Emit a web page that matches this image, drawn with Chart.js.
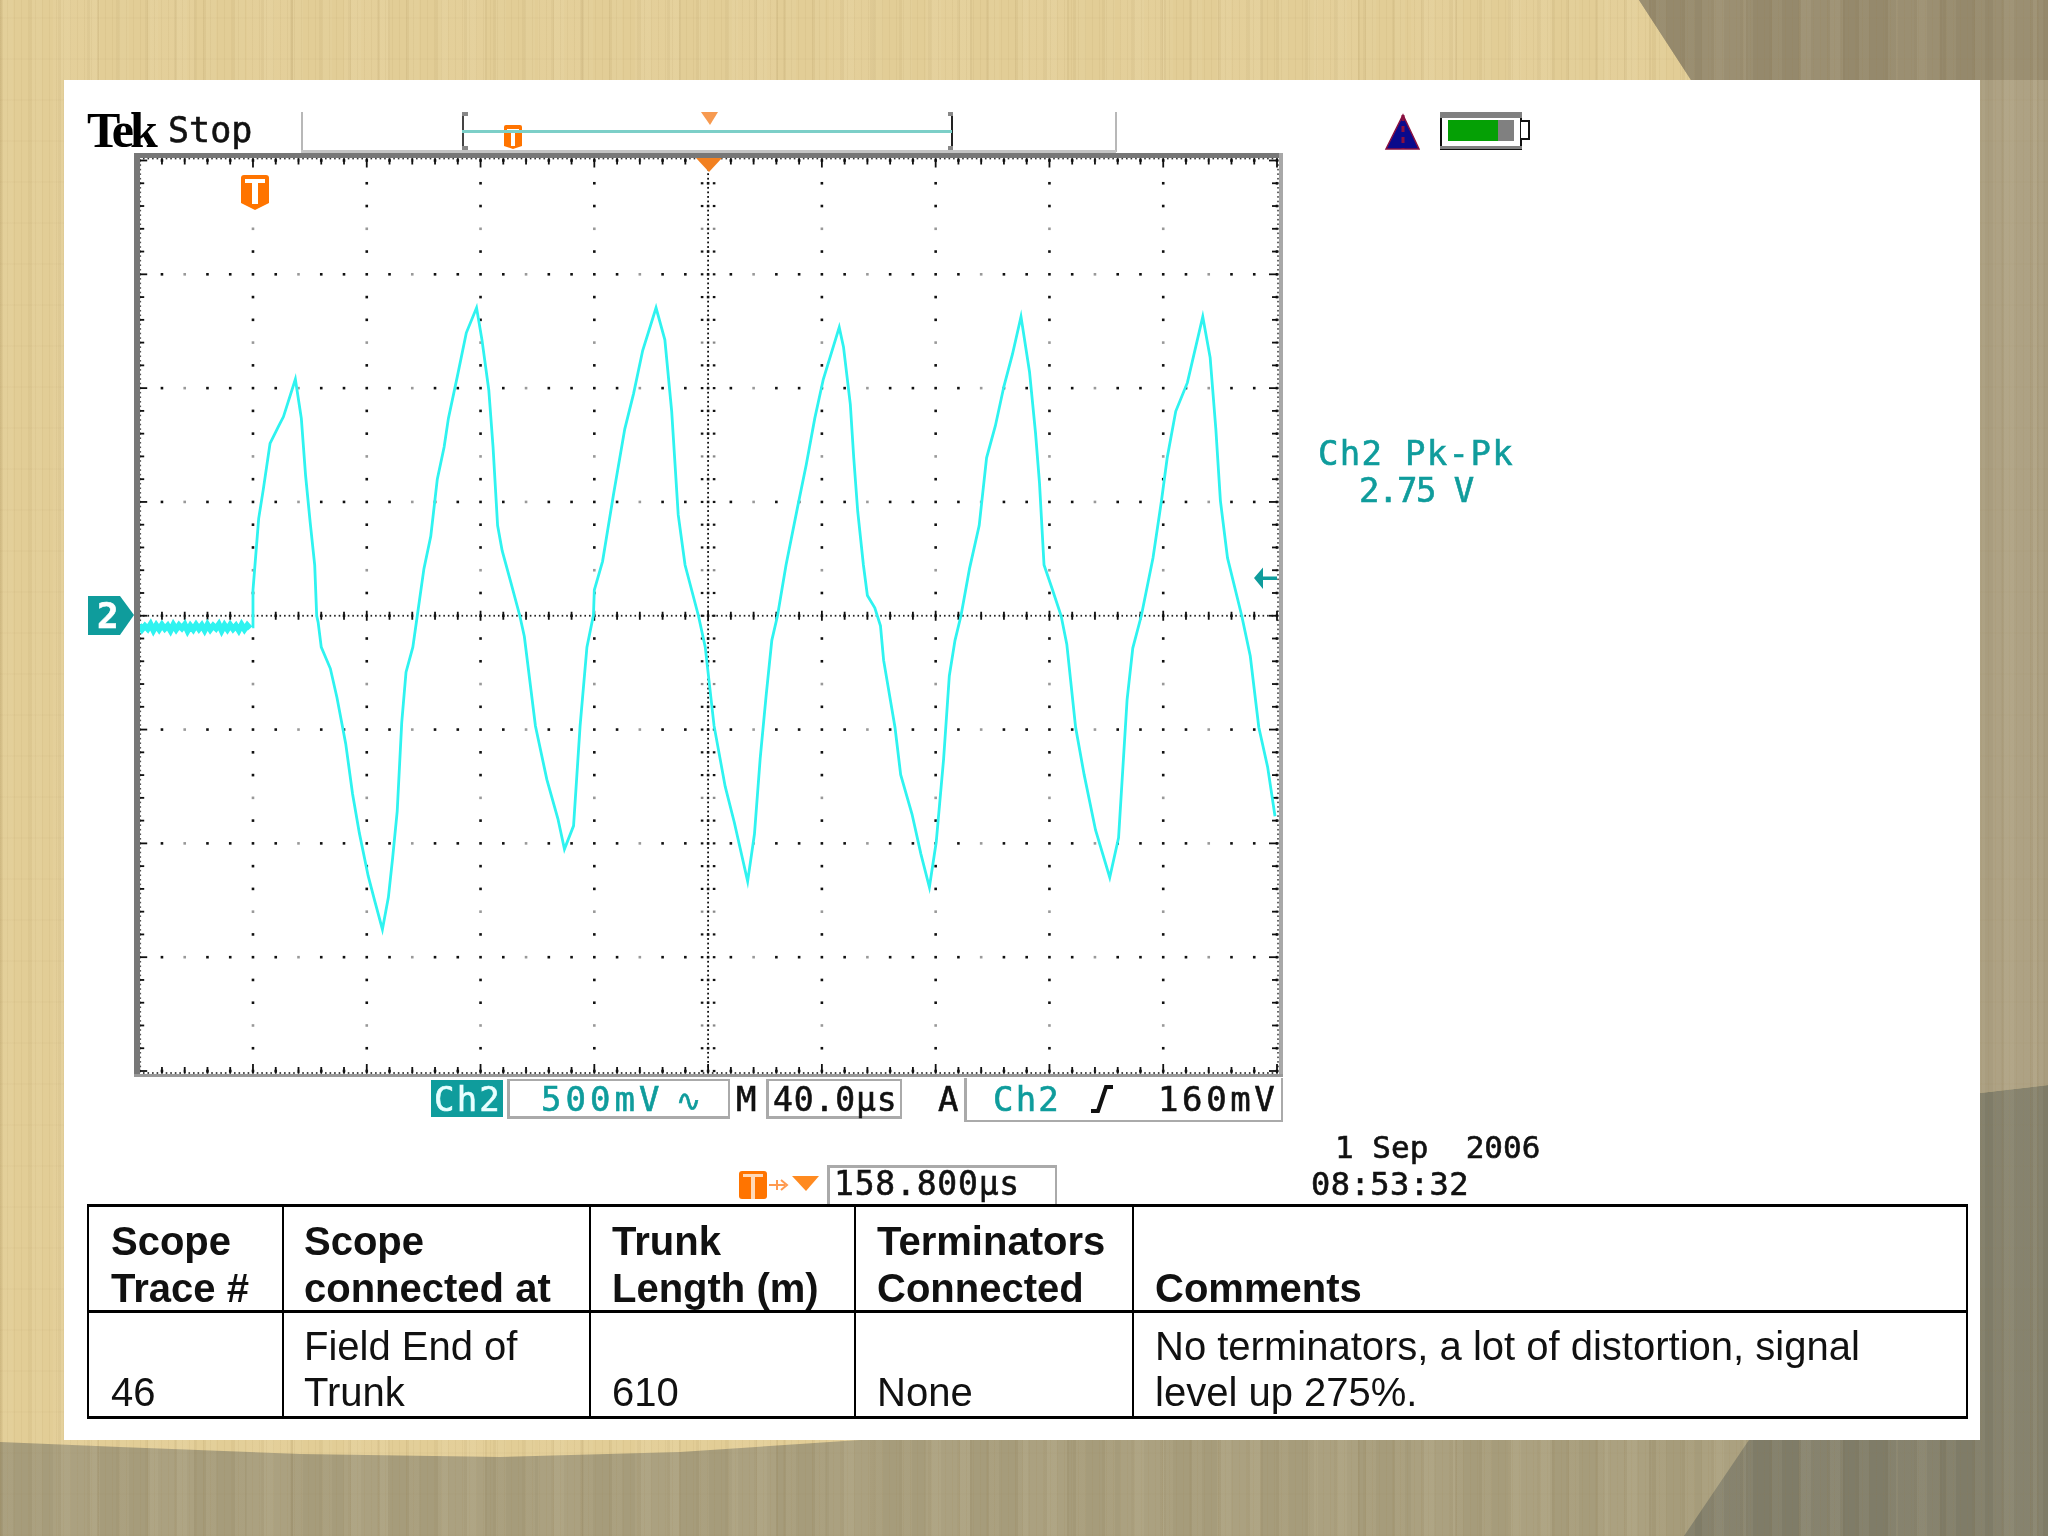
<!DOCTYPE html>
<html>
<head>
<meta charset="utf-8">
<title>Scope trace 46</title>
<script src="https://cdn.jsdelivr.net/npm/chart.js@4"></script>
<style>
html, body { margin: 0; padding: 0; }
body { width: 2048px; height: 1536px; overflow: hidden; position: relative; background: #e2cd96; }
.layer { position: absolute; left: 0; top: 0; width: 2048px; height: 1536px; }
.wood { background-image:
    repeating-linear-gradient(90deg, rgba(150,120,60,.07) 0 1px, rgba(255,255,255,0) 1px 7px),
    repeating-linear-gradient(90deg, rgba(130,105,55,.06) 0 3px, rgba(255,245,215,.05) 3px 13px, rgba(255,255,255,0) 13px 29px),
    repeating-linear-gradient(90deg, rgba(120,95,50,.07) 0 2px, rgba(255,255,255,0) 2px 53px, rgba(255,240,210,.06) 53px 97px),
    repeating-linear-gradient(0deg, rgba(140,110,60,.03) 0 2px, rgba(255,255,255,0) 2px 41px); }
#top-right { background-color: #a99d7f; clip-path: polygon(1639px 0, 2048px 0, 2048px 1085px, 1980px 1093px, 1980px 80px, 1691px 80px); }
#top-band { background-color: #95896c; clip-path: polygon(1639px 0, 2048px 0, 2048px 80px, 1691px 80px); }
#bottom { background-color: #a69c7b; clip-path: polygon(0 1442px, 120px 1447px, 300px 1454px, 500px 1457px, 680px 1452px, 860px 1440px, 2048px 1440px, 2048px 1536px, 0 1536px); }
#bottom-dark { background-color: #7f7c68; clip-path: polygon(1749px 1440px, 1980px 1440px, 1980px 1093px, 2048px 1085px, 2048px 1536px, 1684px 1536px); }
#panel { position: absolute; left: 64px; top: 80px; width: 1916px; height: 1360px; background: #fff; }
#chart { position: absolute; left: 0; top: 0; }
.t { position: absolute; line-height: 0; white-space: pre; }
.r { position: absolute; }
</style>
</head>
<body>
<div class="layer wood" id="wood"></div>
<div class="layer wood" id="top-right"></div>
<div class="layer wood" id="top-band"></div>
<div class="layer wood" id="bottom"></div>
<div class="layer wood" id="bottom-dark"></div>
<div id="panel"></div>
<canvas id="chart" width="2048" height="1536"></canvas>
<svg class="layer" viewBox="0 0 2048 1536" xmlns="http://www.w3.org/2000/svg">
  <!-- trigger position markers -->
  <path d="M241 178 q0 -3 3 -3 h22 q3 0 3 3 v25 l-14 7 l-14 -7 z" fill="#ff7400"/>
  <path d="M245 179 h20 v4 h-7 v21 h-6 v-21 h-7 z" fill="#fff"/>
  <path d="M504 127 q0 -2 2 -2 h14 q2 0 2 2 v19 l-9 3 l-9 -3 z" fill="#ff7400"/>
  <path d="M507 129 h12 v3 h-4 v14 h-4 v-14 h-4 z" fill="#fff"/>
  <path d="M739 1174 q0 -3 3 -3 h22 q3 0 3 3 v22 q0 3 -3 3 h-22 q-3 0 -3 -3 z" fill="#ff7400"/>
  <path d="M743 1174 h20 v3 h-8 v22 h-4 v-22 h-8 z" fill="#ffd9b8"/>
  <path d="M769 1185 h16 M781 1180 l6 5 l-6 5 M777 1180 v10" stroke="#ff9a50" stroke-width="2" fill="none"/>
  <path d="M792 1176 h27 l-13 15 z" fill="#ff8a20"/>
  <path d="M701 112 h17 l-8 13 z" fill="#f79a50"/>
  <path d="M696 158 h26 l-13 14 z" fill="#f28020"/>
  <!-- channel markers -->
  <path d="M88 596 h32 l14 19 l-14 20 h-32 z" fill="#0f9c9c"/>
  <path d="M1277 576.5 h-14 v-9 l-9 10.5 l9 11 v-9 h14 z" fill="#0f9c9c"/>
  <!-- warning triangle and battery -->
  <path d="M1403 115 l16 34 h-33 z" fill="#0a0a8c" stroke="#8a1040" stroke-width="1.5"/>
  <path d="M1403 115 v34" stroke="#8a1040" stroke-width="3" stroke-dasharray="6 5"/>
  <rect x="1441" y="113" width="80" height="36" fill="#fff" stroke="#111" stroke-width="2"/>
  <rect x="1440" y="112" width="82" height="6" fill="#808080"/>
  <rect x="1440" y="146" width="82" height="3" fill="#808080"/>
  <rect x="1448" y="120" width="50" height="21" fill="#05a005"/>
  <rect x="1498" y="120" width="16" height="21" fill="#808080"/>
  <path d="M1521 121 h8 v18 h-8" fill="#fff" stroke="#111" stroke-width="2"/>
  <!-- trigger slope -->
  <path d="M1091 1111 h7 l8 -24 h7" fill="none" stroke="#111" stroke-width="4"/>
</svg>
<script>
// Ch2 trace, time in microseconds and level in volts, 40 us/div and 500 mV/div
var idleTime = [0, 1, 2, 3, 4, 5, 6, 7, 8, 9, 10, 11, 12, 13, 14, 15, 16, 17, 18, 19, 20, 21, 22, 23, 24, 25, 26, 27, 28, 29, 30, 31, 32, 33, 34, 35, 36, 37, 38, 39];
var idleVolts = [-0.04, -0.06, -0.045, -0.058, -0.038, -0.064, -0.042, -0.06, -0.04, -0.057, -0.044, -0.065, -0.04, -0.06, -0.042, -0.055, -0.039, -0.066, -0.044, -0.06, -0.04, -0.058, -0.042, -0.064, -0.04, -0.06, -0.044, -0.056, -0.038, -0.065, -0.042, -0.06, -0.04, -0.058, -0.044, -0.064, -0.04, -0.06, -0.042, -0.056];
var traceTime = [39.7, 40.0, 42.0, 43.6, 46.0, 49.1, 50.7, 54.9, 57.0, 58.5, 60.1, 61.7, 62.4, 62.9, 64.0, 67.2, 69.5, 72.6, 75.0, 77.4, 80.5, 82.8, 85.5, 87.6, 89.1, 90.7, 92.3, 93.8, 96.2, 97.8,
    100.1, 102.5, 104.8, 107.2, 108.7, 111.9, 115.0, 118.6, 120.5, 122.9, 124.4, 126.0, 127.6, 130.7, 133.8, 135.4, 139.3, 143.3, 147.2, 149.5, 152.7, 155.0, 157.4, 159.7,
    160.0, 162.9, 166.8, 170.7, 173.8, 177.0, 181.7, 184.8, 187.2, 189.5, 191.9, 196.6, 199.0, 202.1, 206.0, 209.2, 213.9, 216.3, 218.3, 220.4, 222.4, 224.4,
    227.4, 231.4, 234.5, 237.5, 240.5, 246.1, 247.6, 250.0, 251.2, 252.6, 254.6, 256.0, 258.6, 260.6, 261.7, 265.7, 267.7, 271.7, 274.8, 277.8, 280.2, 282.8, 284.8, 286.8, 288.9,
    291.9, 295.3, 297.9, 301.0, 304.0, 307.0, 310.0, 313.0, 315.1, 316.5, 318.1, 321.1, 324.1, 326.1, 329.2, 332.2, 336.2, 341.2, 344.3, 347.3, 349.3, 352.3,
    356.4, 359.4, 361.4, 364.4, 368.5, 373.9, 376.5, 378.5, 380.1, 382.6, 387.6, 390.6, 393.6, 396.7, 399.3];
var traceVolts = [-0.049, 0.113, 0.427, 0.553, 0.757, 0.835, 0.874, 1.039, 0.867, 0.615, 0.411, 0.223, 0.0, -0.028, -0.138, -0.232, -0.358, -0.562, -0.782, -0.955, -1.143, -1.253, -1.378, -1.237, -1.064, -0.860, -0.468, -0.248, -0.138, 0.003,
    0.207, 0.349, 0.600, 0.741, 0.867, 1.055, 1.243, 1.353, 1.212, 0.992, 0.741, 0.396, 0.286, 0.144, 0.0, -0.091, -0.484, -0.719, -0.892, -1.025, -0.923, -0.484, -0.138, 0.003,
    0.113, 0.239, 0.537, 0.820, 0.976, 1.165, 1.353, 1.212, 0.898, 0.443, 0.223, 0.0, -0.138, -0.484, -0.750, -0.907, -1.167, -0.959, -0.629, -0.351, -0.108, 0.0,
    0.223, 0.474, 0.663, 0.867, 1.039, 1.267, 1.181, 0.929, 0.694, 0.458, 0.223, 0.089, 0.035, -0.044, -0.195, -0.490, -0.698, -0.872, -1.046, -1.193, -0.994, -0.629, -0.264, -0.108, 0.0,
    0.207, 0.396, 0.694, 0.835, 1.008, 1.149, 1.314, 1.071, 0.804, 0.584, 0.223, 0.113, 0.0, -0.125, -0.490, -0.698, -0.941, -1.150, -0.976, -0.368, -0.142, 0.0,
    0.254, 0.506, 0.694, 0.898, 1.024, 1.314, 1.134, 0.820, 0.506, 0.254, 0.0, -0.177, -0.490, -0.664, -0.881];

var tableHeads = [["Scope", "Trace #"], ["Scope", "connected at"], ["Trunk", "Length (m)"], ["Terminators", "Connected"], ["", "Comments"]];
var tableCells = [["", "46"], ["Field End of", "Trunk"], ["", "610"], ["", "None"], ["No terminators, a lot of distortion, signal", "level up 275%."]];

var TEAL = "#0f9c9c";
var MONO = "'DejaVu Sans Mono'";
var SANS = "'Liberation Sans'";

function label(text, x, base, size, color, font, extra) {
    var d = document.createElement("div");
    d.className = "t";
    d.textContent = text;
    d.style.left = x + "px";
    d.style.top = (base - 0.346 * size) + "px";
    d.style.fontSize = size + "px";
    d.style.color = color;
    d.style.fontFamily = font;
    if (font === MONO) d.style.webkitTextStroke = "0.6px " + color;
    if (extra) for (var k in extra) d.style[k] = extra[k];
    document.body.appendChild(d);
}
function rect(x, y, w, h, color) {
    var d = document.createElement("div");
    d.className = "r";
    d.style.cssText += "left:" + x + "px;top:" + y + "px;width:" + w + "px;height:" + h + "px;background:" + color;
    document.body.appendChild(d);
}

// dotted graticule, drawn from the scale ticks
var graticule = {
    id: "graticule",
    beforeDatasetsDraw: function(chart) {
        var ctx = chart.ctx, xs = chart.scales.x, ys = chart.scales.y;
        var nx = xs.ticks.length - 1, ny = ys.ticks.length - 1;
        function dot(x, y, w, h, c) {
            ctx.fillStyle = c || "#111";
            ctx.fillRect(x - w / 2, y - h / 2, w, h);
        }
        ctx.save();
        xs.ticks.forEach(function(xt, i) {
            ys.ticks.forEach(function(yt, j) {
                var fromTop = ny - j;
                var x = xs.getPixelForValue(xt.value), y = ys.getPixelForValue(yt.value);
                var onCol = i % 5 === 0, onRow = j % 5 === 0;
                if (onCol || onRow) {
                    var soft = (onCol && !onRow && fromTop % 5 === 3) || (onRow && !onCol && i % 5 === 2);
                    dot(x, y, 2.6, 2.6, soft ? "#999" : "#111");
                }
            });
        });
        // fine dots on the centre lines and the edges
        var cx = xs.getPixelForValue(200), cy = ys.getPixelForValue(0);
        var l = xs.left, r = xs.right, t = ys.top, b = ys.bottom;
        var sx = (r - l) / nx / 5, sy = (b - t) / ny / 5;
        for (var a = 0; a <= nx * 5; a++) {
            var px = l + a * sx;
            dot(px, cy, 1.6, 1.8, "#222");
            dot(px, t - 2, 1.6, 1.8, "#333");
            dot(px, b + 2, 1.6, 1.8, "#333");
        }
        for (var c = 0; c <= ny * 5; c++) {
            var py = t + c * sy;
            dot(cx, py, 1.8, 1.8, "#111");
            dot(l + 1, py, 1.8, 1.6, "#555");
            dot(r + 1, py, 1.8, 1.6, "#555");
        }
        // short ticks on the centre lines and the edges
        xs.ticks.forEach(function(xt, i) {
            var x = xs.getPixelForValue(xt.value), major = i % 5 === 0, h = major ? 9 : 6;
            dot(x, cy, 1.8, major ? 10 : 8);
            dot(x, t + h / 2 - 2, 1.8, h);
            dot(x, b - h / 2 + 2, 1.8, h);
        });
        ys.ticks.forEach(function(yt, j) {
            var y = ys.getPixelForValue(yt.value), major = j % 5 === 0, w = major ? 9 : 6;
            var tone = (ny - j) % 5 === 3 ? "#888" : "#111";
            dot(cx - 6, y, 2.6, 2.2, tone);
            dot(cx + 6, y, 2.6, 2.2, tone);
            dot(l + w / 2 - 1, y, w, 1.8);
            dot(r - w / 2 + 1, y, w, 1.8);
        });
        ctx.restore();
    }
};

new Chart(document.getElementById("chart").getContext("2d"), {
    type: "line",
    data: {
        datasets: [{
            label: "Ch2 idle",
            data: idleTime.map(function(t, i) { return { x: t, y: idleVolts[i] }; }),
            borderColor: "#2ff3f0",
            borderWidth: 6,
            pointRadius: 0,
            tension: 0
        }, {
            label: "Ch2",
            data: traceTime.map(function(t, i) { return { x: t, y: traceVolts[i] }; }),
            borderColor: "#2ff3f0",
            borderWidth: 2.8,
            pointRadius: 0,
            tension: 0
        }]
    },
    plugins: [graticule],
    options: {
        responsive: false,
        animation: false,
        devicePixelRatio: 1,
        layout: { padding: { left: 139.2, right: 771, top: 160.5, bottom: 465 } },
        plugins: { legend: { display: false }, tooltip: { enabled: false }, title: { display: false } },
        scales: {
            x: {
                type: "linear",
                min: 0,
                max: 400,
                display: true,
                grid: { display: false },
                border: { display: false },
                ticks: { display: false, stepSize: 8, maxTicksLimit: 100 },
                afterFit: function(s) { s.height = 0; }
            },
            y: {
                min: -2,
                max: 2,
                display: true,
                grid: { display: false },
                border: { display: false },
                ticks: { display: false, stepSize: 0.1, maxTicksLimit: 100 },
                afterFit: function(s) { s.width = 0; }
            }
        }
    }
});

// scope frame and readout boxes
rect(134, 152.5, 5.5, 924.5, "#777");
rect(134, 152.5, 1149, 5.5, "#777");
rect(1278.6, 152.5, 4.4, 924.5, "#a8a8a8");
rect(134, 1074, 1149, 3, "#999");
rect(301, 112, 2, 40, "#b8b8b8");
rect(1115, 112, 2, 40, "#b8b8b8");
rect(301, 149.5, 815, 3, "#c4c4c4");
rect(462, 112, 2, 38, "#444");
rect(462, 112, 6, 4, "#888");
rect(462, 146, 6, 4, "#888");
rect(951, 112, 2, 38, "#222");
rect(948, 112, 5, 4, "#888");
rect(948, 146, 5, 4, "#888");
rect(462, 130, 490, 2.5, "#7ccfc8");
rect(431.4, 1080, 72, 37, TEAL);
function boxOutline(x, y, w, h, sides) {
    if (sides.indexOf("t") >= 0) rect(x, y, w, 2.5, "#aaa");
    if (sides.indexOf("b") >= 0) rect(x, y + h - 2.5, w, 2.5, "#aaa");
    if (sides.indexOf("l") >= 0) rect(x, y, 2.5, h, "#aaa");
    if (sides.indexOf("r") >= 0) rect(x + w - 2.5, y, 2.5, h, "#aaa");
}
boxOutline(507, 1078.5, 223, 40, "tblr");
boxOutline(766, 1078.5, 136, 40, "tblr");
boxOutline(964, 1078, 319, 44, "blr");
boxOutline(827, 1165, 230, 41, "tlr");

// scope readouts
label("Tek", 87, 147, 50, "#000", "'Liberation Serif'", { fontWeight: "bold", letterSpacing: "-4px" });
label("Stop", 168, 142, 35, "#111", MONO);
label("2", 97, 628, 36, "#fff", MONO, { fontWeight: "bold" });
label("Ch2 Pk-Pk", 1318, 465, 34, TEAL, MONO, { letterSpacing: "1.3px" });
label("2.75 V", 1359, 502, 34, TEAL, MONO, { letterSpacing: "-1.5px" });
label("Ch2", 434, 1111, 34, "#e8ffff", MONO, { letterSpacing: "2.2px" });
label("500mV", 541, 1111, 34, TEAL, MONO, { letterSpacing: "4px" });
label("\u223F", 676, 1111, 30, TEAL, MONO);
label("M", 736, 1111, 34, "#111", MONO);
label("40.0\u00B5s", 773, 1111, 33, "#111", MONO, { letterSpacing: "0.9px" });
label("A", 938, 1111, 34, "#111", MONO);
label("Ch2", 993, 1111, 34, TEAL, MONO, { letterSpacing: "2.2px" });
label("160mV", 1158, 1111, 34, "#111", MONO, { letterSpacing: "3.6px" });
label("158.800\u00B5s", 834, 1195, 33, "#111", MONO, { letterSpacing: "0.8px" });
label("1 Sep  2006", 1335, 1158, 31, "#111", MONO);
label("08:53:32", 1311, 1195, 32, "#111", MONO, { letterSpacing: "0.5px" });

// results table
var tableX = [87, 282, 589, 854, 1132, 1966];
var tableY = [1205, 1311, 1417];
var textX = [111, 304, 612, 877, 1155];
tableY.forEach(function(y) { rect(tableX[0], y - 1.5, tableX[5] - tableX[0] + 2, 3, "#000"); });
tableX.forEach(function(x) { rect(x, tableY[0], 2.4, tableY[2] - tableY[0], "#000"); });
tableHeads.forEach(function(lines, i) {
    label(lines[0], textX[i], 1255, 40, "#111", SANS, { fontWeight: "bold" });
    label(lines[1], textX[i], 1302, 40, "#111", SANS, { fontWeight: "bold" });
});
tableCells.forEach(function(lines, i) {
    label(lines[0], textX[i], 1360, 40, "#111", SANS);
    label(lines[1], textX[i], 1406, 40, "#111", SANS);
});
</script>
</body>
</html>
